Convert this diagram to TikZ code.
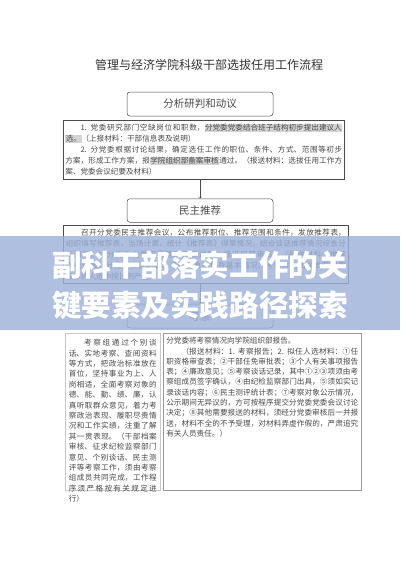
\documentclass[tikz,border=0pt]{standalone}
\usepackage{fontspec}
\setmainfont{Noto Sans CJK SC}
\XeTeXlinebreaklocale "zh"
\XeTeXlinebreakskip=0pt plus 1pt
\definecolor{ink}{HTML}{4A4A4A}
\definecolor{banner}{HTML}{9DB1D9}
\definecolor{marker}{HTML}{D4D4D4}
\definecolor{rim}{HTML}{C8C8C8}
\newcommand{\mk}[1]{{\setlength{\fboxsep}{0.5pt}\colorbox{marker}{#1}}}
\tikzset{
  stage/.style={draw=ink, line width=0.5pt, rounded corners=3pt, minimum width=146pt,
    minimum height=24pt, inner sep=0pt, text=ink, font=\fontsize{10.5}{12}\selectfont},
  sheet/.style={draw=#1, line width=0.6pt, anchor=north west, inner xsep=2pt,
    inner ysep=3.5pt, text=ink, font=\fontsize{7.6}{11}\selectfont},
}
\begin{document}
\begin{tikzpicture}[x=1pt,y=-1pt]
\useasboundingbox (0,0) rectangle (400,565);
\fill[white] (0,0) rectangle (400,565);
\node[text=ink!70!black, font=\fontsize{12}{14}\selectfont] (title) at (209,65) {管理与经济学院科级干部选拔任用工作流程};
% step one
\node[stage] (analyze) at (200,104) {分析研判和动议};
\node[sheet=ink] (plan) at (63,120) {\begin{minipage}[t]{277pt}
\hspace*{2em}1. 党委研究部门空缺岗位和职数，\mk{分党委党委结合班子结构初步提出建议人}\linebreak
\mk{选。}（上报材料：干部信息表及说明）\par
\hspace*{2em}2. 分党委根据讨论结果，确定选任工作的职位、条件、方式、范围等初步\linebreak
方案，形成工作方案，报\mk{学院组织部备案审核}通过。（报送材料：选拔任用工作方\linebreak
案、党委会议纪要及材料）
\end{minipage}};
% step two
\node[stage, minimum height=23.5pt] (recommend) at (200,210.5) {民主推荐};
\draw[->, ink] (plan.south -| recommend) -- (recommend.north);
\node[sheet=ink, inner xsep=2.5pt] (poll) at (63,225) {\begin{minipage}[t]{280pt}
\hspace*{2em}召开分党委民主推荐会议，公布推荐职位、推荐范围和条件，发放推荐表，\linebreak
组织填写推荐表，当场计票，统计《推荐表》得票情况，结合谈话推荐情况综合分\linebreak
析研判，由分党委党委研究确定考察对象，报组织部审核。（报送材料：推荐\linebreak
票统计表、分党委会议纪要、考察对象名单及基本情况，考察对象须在推荐得票\linebreak
较多的人选中按比例产生）
\end{minipage}};
% step three
\node[stage] (inspect) at (200,316) {考察};
\draw[->, ink] (poll.south -| inspect) -- (inspect.north);
\node[sheet=rim, inner xsep=3.5pt, inner ysep=6pt, font=\fontsize{7.6}{10.4}\selectfont] (vet) at (65,333) {\begin{minipage}[t][145pt][t]{88pt}
\hspace*{2em}考察组通过个别谈话、实地考察、查阅资料等方式，把政治标准放在首位，坚持事业为上、人岗相适，全面考察对象的德、能、勤、绩、廉，认真听取群众意见，着力考察政治表现、履职尽责情况和工作实绩，注重了解其一贯表现。（干部档案审核、征求纪检监察部门意见、个别谈话、民主测评等考察工作，须由考察组成员共同完成，工作程序须严格按有关规定进行）
\end{minipage}};
\node[sheet=black!40, inner xsep=3pt, inner ysep=4pt, font=\fontsize{7.6}{10.3}\selectfont] (report) at (163,333) {\begin{minipage}[t][149pt][t]{192pt}
分党委将考察情况向学院组织部报告。\par
\hspace*{2em}（报送材料：1. 考察报告；2. 拟任人选材料：①任职资格审查表；②干部任免审批表；③个人有关事项报告表；④廉政意见；⑤考察谈话记录，其中①②③项须由考察组成员签字确认，④由纪检监察部门出具，⑤须如实记录谈话内容；⑥民主测评统计表；⑦考察对象公示情况，公示期间无异议的，方可按程序提交分党委党委会议讨论决定；⑧其他需要报送的材料，须经分党委审核后一并报送，材料不全的不予受理，对材料弄虚作假的，严肃追究有关人员责任。）
\end{minipage}};
% overlay
\fill[banner, opacity=0.82] (0,236) rectangle (400,330);
\node[white, align=center, font=\fontsize{29.6}{40}\selectfont\bfseries] (caption) at (200,285) {副科干部落实工作的关\\键要素及实践路径探索};
\end{tikzpicture}
\end{document}
